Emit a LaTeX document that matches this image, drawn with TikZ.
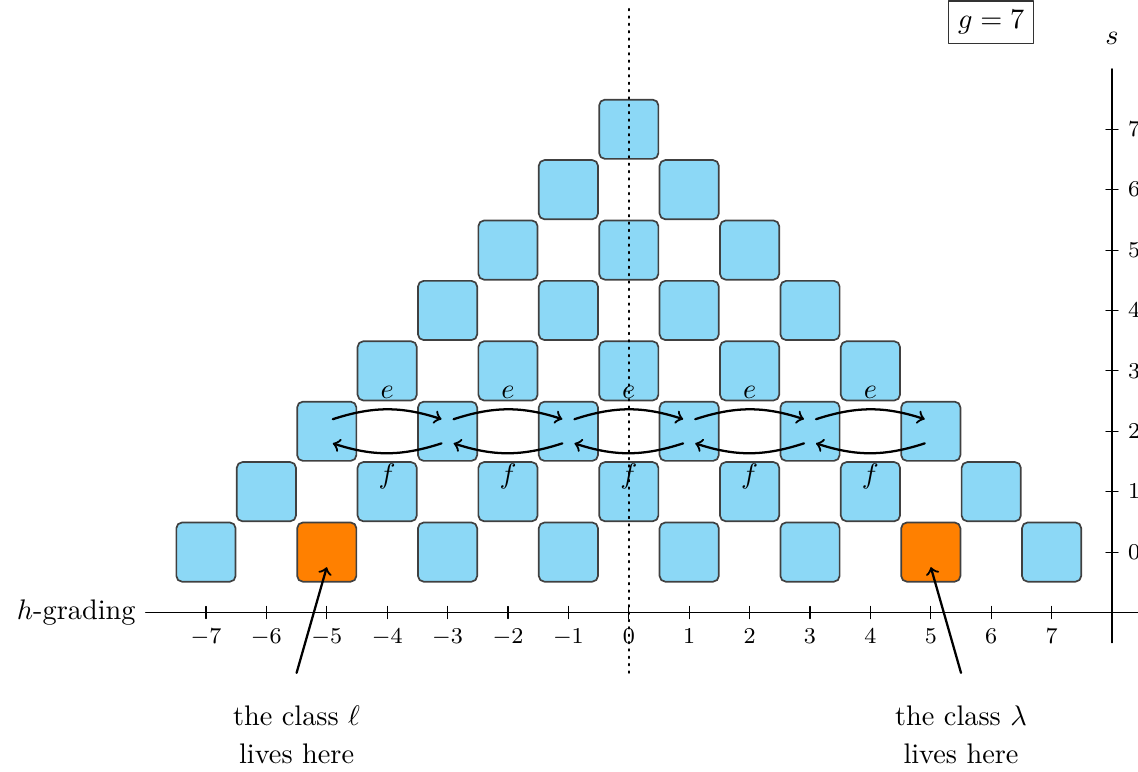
\documentclass[tikz,border=0pt]{standalone}
\usepackage{tikz}
\usepackage[dvipsnames]{xcolor}
\definecolor{cellblue}{RGB}{140,216,246}

\begin{document}
\begin{tikzpicture}[x=0.75cm, y=0.75cm, line cap=round, line join=round,
    cell/.style={draw=black!75, semithick, fill=cellblue, rounded corners=2pt,
                 minimum size=0.735cm, inner sep=0pt},
    special/.style={cell, fill=orange},
    move/.style={->, thick},
    ticklab/.style={font=\footnotesize}]

\useasboundingbox (-10.41,-3.63) rectangle (8.43,9.14);

             \def\g{7}      % genus
             \def\bnd{18}   % bend of the e/f arrows

             % the cells: |h|+s <= g, h+s odd
             \foreach \s in {0,...,7} {
               \foreach \h in {-7,...,7} {
                 \pgfmathtruncatemacro{\ok}{(abs(\h)+\s<=\g) && isodd(\h+\s)}
                 \pgfmathtruncatemacro{\hot}{(\s==0) && (abs(\h)==5)}
                 \ifnum\hot=1 \def\st{special}\else\def\st{cell}\fi
                 \ifnum\ok=1
                   \node[\st] (b\h-\s) at (\h,\s) {};
                 \fi
               }
             }

             % axes
             \draw (-8,-1) node[left] {$h$-grading} -- (8.45,-1);
             \foreach \h in {-7,...,7}
               \draw (\h,-0.9) -- (\h,-1.1) node[below, ticklab] {$\h$};
             \draw (8,-1.5) -- (8,8);
             \foreach \s in {0,...,7}
               \draw (7.9,\s) -- (8.1,\s) node[right, ticklab] {$\s$};
             \node (slab) at (8,8.5) {$s$};
             \node[draw, black!80, text=black] (genus) at (6,8.77) {$g=7$};

            \draw[semithick, dotted] (0,-2) -- (0,9.05);

             % e and f
             \foreach \h in {-5,-3,-1,1,3} {
               \pgfmathtruncatemacro{\k}{\h+2}
               \draw[move] ([shift={(0.1,0.2)}]b\h-2.center)
                 to[bend left=\bnd] node[above] {$e$}
                 ([shift={(-0.1,0.2)}]b\k-2.center);
               \draw[move] ([shift={(-0.1,-0.2)}]b\k-2.center)
                 to[bend left=\bnd] node[below] {$f$}
                 ([shift={(0.1,-0.2)}]b\h-2.center);
             }

            % where the classes live
            \coordinate (ltail) at (-5.5,-2);
            \coordinate (rtail) at (5.5,-2);
            \node[align=center] (ltext) at (-5.5,-3.02) {the class $\ell$\\[1.5pt]lives here};
            \node[align=center] (rtext) at (5.5,-3.02) {the class $\lambda$\\[1.5pt]lives here};
            \draw[move] (ltail) -- ([shift={(0,-0.25)}]b-5-0.center);
            \draw[move] (rtail) -- ([shift={(0,-0.25)}]b5-0.center);
            \end{tikzpicture}
\end{document}
